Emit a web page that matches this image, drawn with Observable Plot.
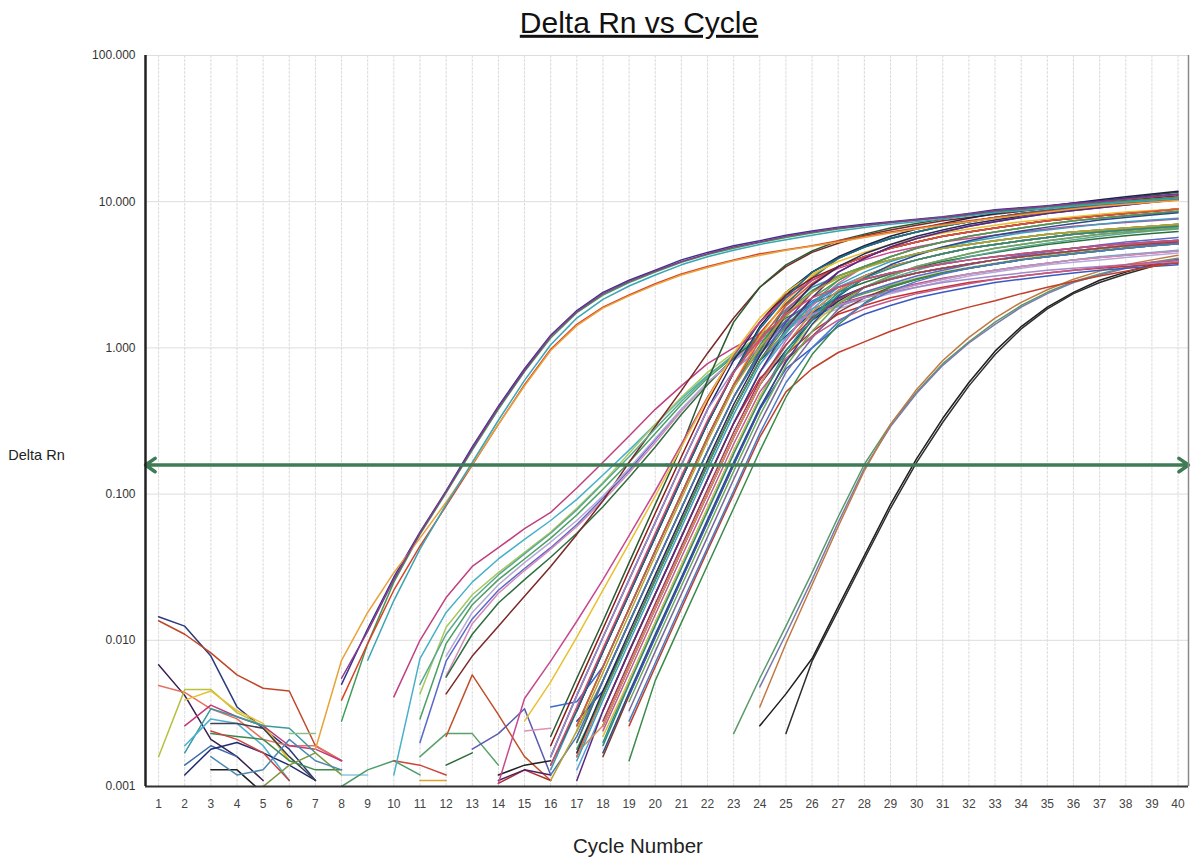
<!DOCTYPE html>
<html><head><meta charset="utf-8">
<script src="https://cdn.jsdelivr.net/npm/d3@7"></script>
<script src="https://cdn.jsdelivr.net/npm/@observablehq/plot@0.6"></script>
<style>
body{margin:0;background:#fff;}
#chart svg{display:block;}
</style></head><body><div id="chart"></div>
<script>
const title = "Delta Rn vs Cycle";
const xLabel = "Cycle Number";
const yLabel = "Delta Rn";
const cycleTicks = [1,2,3,4,5,6,7,8,9,10,11,12,13,14,15,16,17,18,19,20,21,22,23,24,25,26,27,28,29,30,31,32,33,34,35,36,37,38,39,40];
const yTicks = [0.001, 0.01, 0.1, 1, 10, 100];
const threshold = 0.158;

// Each curve: first number = cycle of first reading, then the Delta Rn readings per cycle.
const baselineCurves = [
  [1, 0.0145, 0.0125, 0.0078, 0.0035, 0.0025, 0.0018, 0.0011],
  [1, 0.0136, 0.011, 0.0082, 0.0058, 0.0047, 0.0045, 0.0019, 0.0015],
  [1, 0.0068, 0.0042, 0.0021, 0.0016, 0.0011],
  [1, 0.0049, 0.0044, 0.0034, 0.0029, 0.0021, 0.0019, 0.0019, 0.0015],
  [1, 0.0016, 0.0046, 0.0046, 0.0032, 0.0026, 0.0015],
  [2, 0.0039, 0.0045, 0.0033, 0.0027, 0.0015],
  [2, 0.0026, 0.0036, 0.0030, 0.0026, 0.0019, 0.0018, 0.0015],
  [2, 0.0017, 0.0034, 0.0030, 0.0026, 0.0025, 0.0017],
  [2, 0.0019, 0.0029, 0.0027, 0.0019, 0.0011],
  [2, 0.0014, 0.0019, 0.0016],
  [2, 0.0012, 0.0018, 0.002, 0.0017, 0.0014, 0.0011],
  [3, 0.0027, 0.0027, 0.0025, 0.0016, 0.0011],
  [3, 0.0013, 0.0013, 0.0009],
  [3, 0.0023, 0.0022, 0.0021, 0.0015, 0.0013, 0.0013],
  [3, 0.0024, 0.0021, 0.0017, 0.0011],
  [6, 0.0023, 0.0023],
  [5, 0.001, 0.0014, 0.0017, 0.0012],
  [3, 0.0016, 0.0012, 0.0013, 0.0021, 0.0015, 0.0013],
  [8, 0.0012, 0.0012],
  [8, 0.001, 0.0013, 0.0015, 0.0012],
  [10, 0.0015, 0.0014, 0.0012],
  [11, 0.0011, 0.0011],
  [11, 0.0016, 0.0023, 0.0023, 0.0014],
  [12, 0.0014, 0.0017],
  [12, 0.0022, 0.0058, 0.0031, 0.0016, 0.0011],
  [13, 0.0018, 0.0023, 0.0034, 0.0012],
  [14, 0.0012, 0.0014, 0.0015],
  [14, 0.00105, 0.0013, 0.0011],
  [15, 0.0024, 0.0025],
  [14, 0.0011, 0.0013, 0.0012]
];

const earlyCurves = [
  [8, 0.005, 0.012, 0.027, 0.055, 0.105, 0.21, 0.4, 0.72, 1.22, 1.8, 2.4, 2.9, 3.4, 4.0, 4.5, 5.0, 5.4, 5.9, 6.3, 6.7, 7.0, 7.3, 7.6, 7.9, 8.3, 8.8, 9.1, 9.4, 9.8, 10.1, 10.5, 10.9, 11.3],
  [8, 0.0028, 0.0095, 0.025, 0.053, 0.102, 0.2, 0.38, 0.69, 1.17, 1.74, 2.3, 2.8, 3.3, 3.85, 4.35, 4.8, 5.25, 5.7, 6.1, 6.5, 6.85, 7.2, 7.5, 7.8, 8.2, 8.6, 8.9, 9.2, 9.5, 9.8, 10.1, 10.4, 10.7],
  [8, 0.0039, 0.0095, 0.022, 0.044, 0.083, 0.158, 0.3, 0.56, 0.98, 1.45, 1.9, 2.3, 2.75, 3.2, 3.6, 4.0, 4.4, 4.7, 5.0, 5.4, 5.8, 6.2, 6.6, 7.0, 7.4, 7.8, 8.2, 8.6, 9.0, 9.4, 9.7, 10.0, 10.3],
  [7, 0.0018, 0.0073, 0.0155, 0.029, 0.05, 0.088, 0.16, 0.3, 0.55, 0.96, 1.42, 1.87, 2.27, 2.7, 3.15, 3.55, 3.95, 4.3, 4.65, 4.95, 5.3, 5.7, 6.1, 6.5, 6.9, 7.3, 7.7, 8.1, 8.5, 8.9, 9.3, 9.6, 9.9, 10.2],
  [9, 0.0073, 0.0187, 0.042, 0.085, 0.165, 0.32, 0.6, 1.05, 1.6, 2.15, 2.65, 3.15, 3.7, 4.2, 4.65, 5.1, 5.5, 5.9, 6.3, 6.65, 7.0, 7.3, 7.6, 8.0, 8.4, 8.7, 9.0, 9.3, 9.6, 9.9, 10.2, 10.5],
  [8, 0.0055, 0.0115, 0.026, 0.054, 0.104, 0.205, 0.39, 0.7, 1.2, 1.77, 2.35, 2.85, 3.35, 3.9, 4.4, 4.9, 5.3, 5.8, 6.2, 6.6, 6.9, 7.2, 7.5, 7.8, 8.2, 8.7, 9.0, 9.3, 9.7, 10.0, 10.4, 10.8, 11.2]
];

const midCurves = [
  [10, 0.0041, 0.010, 0.0196, 0.032, 0.043, 0.058, 0.075, 0.11, 0.165, 0.25, 0.38, 0.55, 0.78, 1.0, 1.25, 1.5, 1.75, 2.0, 2.25, 2.5, 2.75, 3.0, 3.2, 3.4, 3.6, 3.8, 4.0, 4.15, 4.3, 4.45, 4.6],
  [10, 0.0012, 0.0075, 0.0155, 0.025, 0.036, 0.049, 0.066, 0.092, 0.135, 0.2, 0.3, 0.45, 0.65, 0.88, 1.12, 1.38, 1.65, 1.92, 2.2, 2.45, 2.7, 2.95, 3.2, 3.4, 3.6, 3.8, 4.0, 4.2, 4.35, 4.5, 4.65],
  [11, 0.0043, 0.0123, 0.0205, 0.029, 0.04, 0.055, 0.08, 0.12, 0.19, 0.3, 0.46, 0.68, 0.93, 1.2, 1.48, 1.78, 2.1, 2.4, 2.7, 3.0, 3.3, 3.55, 3.8, 4.05, 4.3, 4.5, 4.7, 4.9, 5.1, 5.3],
  [11, 0.002, 0.0072, 0.014, 0.022, 0.031, 0.043, 0.062, 0.094, 0.145, 0.235, 0.38, 0.58, 0.82, 1.1, 1.4, 1.72, 2.05, 2.4, 2.75, 3.1, 3.4, 3.7, 4.0, 4.3, 4.55, 4.8, 5.05, 5.3, 5.5, 5.7],
  [11, 0.0029, 0.0095, 0.0175, 0.026, 0.036, 0.05, 0.072, 0.108, 0.165, 0.26, 0.41, 0.62, 0.87, 1.15, 1.45, 1.75, 2.05, 2.35, 2.65, 2.95, 3.25, 3.5, 3.75, 4.0, 4.2, 4.4, 4.6, 4.8, 5.0, 5.15],
  [12, 0.0057, 0.013, 0.021, 0.03, 0.042, 0.06, 0.09, 0.14, 0.225, 0.37, 0.58, 0.84, 1.12, 1.4, 1.68, 1.95, 2.2, 2.45, 2.7, 2.95, 3.2, 3.4, 3.6, 3.8, 4.0, 4.15, 4.3, 4.45, 4.6],
  [12, 0.0056, 0.011, 0.018, 0.026, 0.037, 0.054, 0.082, 0.13, 0.21, 0.35, 0.56, 0.85, 1.2, 1.6, 2.0, 2.4, 2.8, 3.2, 3.55, 3.9, 4.2, 4.5, 4.8, 5.1, 5.35, 5.6, 5.85, 6.05, 6.25],
  [12, 0.0043, 0.0078, 0.0125, 0.02, 0.032, 0.053, 0.09, 0.165, 0.29, 0.51, 0.92, 1.6, 2.6, 3.6, 4.5, 5.2, 5.9, 6.4, 6.9, 7.4, 7.8, 8.2, 8.6, 9.0, 9.4, 9.8, 10.2, 10.6, 11.0],
  [12, 0.0078, 0.0155, 0.024, 0.034, 0.047, 0.066, 0.097, 0.15, 0.24, 0.38, 0.58, 0.82, 1.08, 1.35, 1.6, 1.85, 2.1, 2.35, 2.6, 2.85, 3.1, 3.3, 3.5, 3.7, 3.85, 4.0, 4.15, 4.3, 4.45],
  [11, 0.005, 0.011, 0.019, 0.028, 0.039, 0.054, 0.078, 0.118, 0.18, 0.28, 0.43, 0.64, 0.9, 1.18, 1.5, 1.85, 2.2, 2.6, 3.0, 3.4, 3.8, 4.2, 4.55, 4.9, 5.2, 5.5, 5.8, 6.05, 6.3, 6.5]
];

const mainCurves = [
  [16, 0.0022, 0.0055, 0.0135, 0.034, 0.085, 0.21, 0.6, 1.5, 2.6, 3.7, 4.6, 5.4, 6.0, 6.6, 7.1, 7.6, 8.1, 8.5, 8.9, 9.3, 9.7, 10.1, 10.6, 11.1, 11.6],
  [16, 0.0016, 0.0042, 0.0105, 0.026, 0.064, 0.158, 0.38, 0.82, 1.5, 2.4, 3.3, 4.1, 4.9, 5.6, 6.2, 6.8, 7.3, 7.8, 8.3, 8.7, 9.1, 9.5, 9.9, 10.3, 10.7],
  [17, 0.0033, 0.0084, 0.0207, 0.051, 0.126, 0.305, 0.68, 1.26, 2.02, 2.9, 3.6, 4.2, 4.8, 5.3, 5.8, 6.2, 6.6, 7.0, 7.4, 7.7, 8.0, 8.3, 8.6, 8.9],
  [16, 0.0013, 0.0033, 0.0084, 0.0207, 0.051, 0.126, 0.305, 0.68, 1.17, 1.84, 2.6, 3.1, 3.6, 4.0, 4.4, 4.8, 5.1, 5.4, 5.7, 6.0, 6.2, 6.4, 6.6, 6.8, 7.0],
  [17, 0.0026, 0.0066, 0.0165, 0.041, 0.1, 0.245, 0.56, 1.2, 2.1, 3.1, 4.1, 4.9, 5.6, 6.2, 6.8, 7.3, 7.8, 8.3, 8.7, 9.1, 9.5, 9.9, 10.3, 10.7],
  [17, 0.0026, 0.0066, 0.0165, 0.041, 0.1, 0.245, 0.56, 1.04, 1.76, 2.47, 3.1, 3.6, 4.0, 4.4, 4.8, 5.1, 5.4, 5.7, 6.0, 6.2, 6.4, 6.6, 6.8, 7.0],
  [16, 0.0035, 0.0038, 0.0066, 0.0165, 0.041, 0.1, 0.245, 0.56, 0.96, 1.54, 2.09, 2.6, 2.95, 3.25, 3.5, 3.75, 4.0, 4.2, 4.4, 4.6, 4.8, 5.0, 5.15, 5.3, 5.45],
  [17, 0.002, 0.0053, 0.0132, 0.0326, 0.08, 0.197, 0.46, 0.95, 1.8, 2.67, 3.6, 4.2, 4.8, 5.3, 5.8, 6.2, 6.6, 7.0, 7.4, 7.7, 8.0, 8.3, 8.6, 8.9],
  [17, 0.0024, 0.0053, 0.0132, 0.0326, 0.08, 0.197, 0.46, 0.92, 1.64, 2.39, 3.1, 3.6, 4.0, 4.4, 4.8, 5.1, 5.4, 5.7, 6.0, 6.2, 6.4, 6.6, 6.8, 7.0],
  [17, 0.0016, 0.0042, 0.0105, 0.026, 0.064, 0.158, 0.38, 0.82, 1.5, 2.4, 3.3, 4.1, 4.9, 5.6, 6.2, 6.8, 7.3, 7.8, 8.3, 8.7, 9.1, 9.5, 9.9, 10.3],
  [17, 0.0016, 0.0042, 0.0105, 0.026, 0.064, 0.158, 0.38, 0.82, 1.3, 2.0, 2.6, 3.1, 3.6, 4.0, 4.4, 4.8, 5.1, 5.4, 5.7, 6.0, 6.2, 6.4, 6.6, 6.8],
  [17, 0.0028, 0.0045, 0.0105, 0.026, 0.064, 0.158, 0.38, 0.82, 1.2, 1.75, 2.2, 2.6, 2.95, 3.25, 3.5, 3.75, 4.0, 4.2, 4.4, 4.6, 4.8, 5.0, 5.15, 5.3],
  [18, 0.0033, 0.0084, 0.0207, 0.051, 0.126, 0.305, 0.68, 1.26, 2.02, 2.9, 3.6, 4.2, 4.8, 5.3, 5.8, 6.2, 6.6, 7.0, 7.4, 7.7, 8.0, 8.3, 8.6],
  [17, 0.0013, 0.0033, 0.0084, 0.0207, 0.051, 0.126, 0.305, 0.68, 1.17, 1.84, 2.6, 3.1, 3.6, 4.0, 4.4, 4.8, 5.1, 5.4, 5.7, 6.0, 6.2, 6.4, 6.6, 6.8],
  [18, 0.0033, 0.0084, 0.0207, 0.051, 0.126, 0.305, 0.62, 0.9, 1.29, 1.7, 1.95, 2.2, 2.4, 2.6, 2.8, 2.95, 3.1, 3.25, 3.4, 3.5, 3.6, 3.7, 3.8],
  [18, 0.0026, 0.0066, 0.0165, 0.041, 0.1, 0.245, 0.56, 1.04, 1.76, 2.47, 3.1, 3.6, 4.0, 4.4, 4.8, 5.1, 5.4, 5.7, 6.0, 6.2, 6.4, 6.6, 6.8],
  [18, 0.0026, 0.0066, 0.0165, 0.041, 0.1, 0.245, 0.56, 0.96, 1.54, 2.09, 2.6, 2.95, 3.25, 3.5, 3.75, 4.0, 4.2, 4.4, 4.6, 4.8, 5.0, 5.15, 5.3],
  [18, 0.0026, 0.0066, 0.0165, 0.041, 0.1, 0.245, 0.56, 1.12, 1.94, 2.76, 3.6, 4.2, 4.8, 5.3, 5.8, 6.2, 6.6, 7.0, 7.4, 7.7, 8.0, 8.3, 8.6],
  [18, 0.002, 0.0053, 0.0132, 0.0326, 0.08, 0.197, 0.46, 0.95, 1.64, 2.39, 3.1, 3.6, 4.0, 4.4, 4.8, 5.1, 5.4, 5.7, 6.0, 6.2, 6.4, 6.6, 6.8],
  [18, 0.0022, 0.0053, 0.0132, 0.0326, 0.08, 0.197, 0.46, 0.9, 1.44, 2.02, 2.6, 2.95, 3.25, 3.5, 3.75, 4.0, 4.2, 4.4, 4.6, 4.8, 5.0, 5.15, 5.3],
  [18, 0.0016, 0.0042, 0.0105, 0.026, 0.064, 0.158, 0.38, 0.82, 1.2, 1.75, 2.2, 2.6, 2.95, 3.25, 3.5, 3.75, 4.0, 4.2, 4.4, 4.6, 4.8, 5.0, 5.15],
  [19, 0.0042, 0.0105, 0.026, 0.064, 0.158, 0.38, 0.72, 1.0, 1.4, 1.7, 1.95, 2.2, 2.4, 2.6, 2.8, 2.95, 3.1, 3.25, 3.4, 3.5, 3.6, 3.7],
  [19, 0.0033, 0.0084, 0.0207, 0.051, 0.126, 0.305, 0.68, 1.17, 1.84, 2.6, 3.1, 3.6, 4.0, 4.4, 4.8, 5.1, 5.4, 5.7, 6.0, 6.2, 6.4, 6.6],
  [19, 0.0026, 0.0066, 0.0165, 0.041, 0.1, 0.245, 0.5, 0.72, 0.93, 1.1, 1.3, 1.5, 1.7, 1.9, 2.1, 2.35, 2.6, 2.85, 3.1, 3.35, 3.6, 3.85],
  [19, 0.0015, 0.0053, 0.0132, 0.0326, 0.08, 0.197, 0.46, 0.9, 1.44, 2.02, 2.6, 2.95, 3.25, 3.5, 3.75, 4.0, 4.2, 4.4, 4.6, 4.8, 5.0, 5.15],
  [16, 0.0016, 0.0042, 0.0105, 0.026, 0.064, 0.158, 0.38, 0.7, 1.0, 1.4, 1.7, 1.95, 2.2, 2.4, 2.6, 2.8, 2.95, 3.1, 3.25, 3.4, 3.5, 3.6, 3.7, 3.8, 3.9],
  [17, 0.002, 0.0053, 0.0132, 0.0326, 0.08, 0.197, 0.46, 0.95, 1.97, 3.0, 4.1, 4.9, 5.6, 6.2, 6.8, 7.3, 7.8, 8.3, 8.7, 9.1, 9.5, 9.9, 10.3, 10.7],
  [17, 0.0033, 0.0084, 0.0207, 0.051, 0.126, 0.305, 0.68, 1.4, 2.3, 3.3, 4.2, 5.0, 5.8, 6.5, 7.1, 7.7, 8.3, 8.8, 9.3, 9.8, 10.3, 10.8, 11.3, 11.8],
  [16, 0.0019, 0.0048, 0.012, 0.03, 0.074, 0.18, 0.43, 0.9, 1.5, 2.3, 3.0, 3.6, 4.2, 4.8, 5.3, 5.8, 6.2, 6.6, 7.0, 7.4, 7.7, 8.0, 8.3, 8.6, 8.9],
  [14, 0.00105, 0.004, 0.0072, 0.0135, 0.026, 0.052, 0.105, 0.22, 0.46, 0.9, 1.5, 2.2, 2.9, 3.5, 4.0, 4.5, 4.9, 5.3, 5.6, 5.9, 6.2, 6.5, 6.8, 7.0, 7.2, 7.4, 7.6],
  [15, 0.0028, 0.0052, 0.0105, 0.022, 0.046, 0.097, 0.21, 0.45, 0.92, 1.6, 2.4, 3.2, 3.9, 4.5, 5.1, 5.6, 6.1, 6.5, 6.9, 7.3, 7.6, 7.9, 8.2, 8.5, 8.7, 8.9],
  [16, 0.0014, 0.0033, 0.0084, 0.0207, 0.051, 0.126, 0.305, 0.68, 1.35, 2.2, 3.3, 4.1, 4.9, 5.6, 6.2, 6.8, 7.3, 7.8, 8.3, 8.7, 9.1, 9.5, 9.9, 10.3, 10.7],
  [17, 0.0026, 0.0066, 0.0165, 0.041, 0.1, 0.245, 0.56, 1.12, 1.94, 2.76, 3.6, 4.2, 4.8, 5.3, 5.8, 6.2, 6.6, 7.0, 7.4, 7.7, 8.0, 8.3, 8.6, 8.9],
  [16, 0.0012, 0.0022, 0.0053, 0.0132, 0.0326, 0.08, 0.197, 0.46, 0.9, 1.44, 2.02, 2.6, 2.95, 3.25, 3.5, 3.75, 4.0, 4.2, 4.4, 4.6, 4.8, 5.0, 5.15, 5.3, 5.45],
  [17, 0.0018, 0.0042, 0.0105, 0.026, 0.064, 0.158, 0.38, 0.82, 1.4, 2.2, 2.9, 3.6, 4.2, 4.8, 5.3, 5.8, 6.2, 6.6, 7.0, 7.4, 7.7, 8.0, 8.3, 8.6],
  [17, 0.0011, 0.0033, 0.0084, 0.0207, 0.051, 0.126, 0.305, 0.68, 1.35, 2.2, 3.3, 4.1, 4.9, 5.6, 6.2, 6.8, 7.3, 7.8, 8.3, 8.7, 9.1, 9.5, 9.9, 10.3],
  [17, 0.0017, 0.0026, 0.0066, 0.0165, 0.041, 0.1, 0.245, 0.56, 1.04, 1.76, 2.47, 3.1, 3.6, 4.0, 4.4, 4.8, 5.1, 5.4, 5.7, 6.0, 6.2, 6.4, 6.6, 6.8],
  [17, 0.0015, 0.0039, 0.0097, 0.024, 0.059, 0.146, 0.35, 0.77, 1.3, 2.0, 2.7, 3.3, 3.9, 4.4, 4.9, 5.3, 5.7, 6.1, 6.4, 6.7, 7.0, 7.3, 7.5, 7.7],
  [18, 0.0024, 0.006, 0.015, 0.037, 0.09, 0.22, 0.5, 0.85, 1.2, 1.55, 1.85, 2.1, 2.35, 2.55, 2.75, 2.95, 3.1, 3.25, 3.4, 3.55, 3.7, 3.85, 4.0],
  [18, 0.0017, 0.0044, 0.011, 0.027, 0.067, 0.165, 0.39, 0.8, 1.45, 2.25, 3.0, 3.7, 4.3, 4.9, 5.4, 5.9, 6.3, 6.7, 7.1, 7.5, 7.8, 8.1, 8.4],
  [19, 0.0038, 0.0095, 0.0235, 0.058, 0.143, 0.345, 0.75, 1.3, 2.0, 2.6, 3.1, 3.6, 4.0, 4.4, 4.8, 5.1, 5.4, 5.7, 6.0, 6.2, 6.4, 6.6],
  [18, 0.0028, 0.0071, 0.0178, 0.044, 0.108, 0.265, 0.6, 1.05, 1.6, 2.15, 2.6, 2.95, 3.25, 3.5, 3.75, 4.0, 4.2, 4.4, 4.6, 4.8, 5.0, 5.15, 5.3],
  [17, 0.0017, 0.0045, 0.0113, 0.028, 0.069, 0.17, 0.41, 0.88, 1.7, 2.7, 3.6, 4.4, 5.1, 5.8, 6.4, 7.0, 7.5, 8.0, 8.5, 8.9, 9.3, 9.7, 10.1, 10.5],
  [19, 0.0028, 0.007, 0.0175, 0.043, 0.105, 0.26, 0.58, 1.0, 1.5, 2.0, 2.45, 2.85, 3.2, 3.5, 3.75, 4.0, 4.2, 4.4, 4.6, 4.8, 5.0, 5.15],
  [16, 0.0011, 0.0024, 0.006, 0.015, 0.038, 0.093, 0.23, 0.53, 1.0, 1.7, 2.4, 3.0, 3.5, 4.0, 4.4, 4.8, 5.1, 5.4, 5.7, 6.0, 6.2, 6.4, 6.6, 6.8, 7.0],
  [18, 0.0019, 0.005, 0.0126, 0.031, 0.076, 0.188, 0.44, 0.9, 1.55, 2.3, 3.0, 3.5, 4.0, 4.4, 4.8, 5.1, 5.4, 5.7, 6.0, 6.2, 6.4, 6.6, 6.8],
  [16, 0.0014, 0.0035, 0.0088, 0.0217, 0.054, 0.133, 0.32, 0.68, 1.15, 1.7, 2.2, 2.6, 2.95, 3.25, 3.5, 3.75, 4.0, 4.2, 4.4, 4.6, 4.8, 5.0, 5.15, 5.3, 5.45]
];

const lateCurves = [
  [23, 0.0023, 0.0055, 0.0125, 0.029, 0.07, 0.16, 0.3, 0.5, 0.78, 1.1, 1.5, 1.95, 2.4, 2.85, 3.2, 3.55, 3.85, 4.1],
  [24, 0.0048, 0.011, 0.026, 0.064, 0.15, 0.29, 0.49, 0.76, 1.08, 1.45, 1.9, 2.35, 2.8, 3.15, 3.5, 3.8, 4.05],
  [24, 0.0035, 0.0095, 0.024, 0.06, 0.145, 0.3, 0.52, 0.82, 1.18, 1.6, 2.05, 2.5, 2.95, 3.35, 3.7, 4.0, 4.3]
];

const lastCurves = [
  [24, 0.0026, 0.0043, 0.0075, 0.017, 0.038, 0.085, 0.175, 0.33, 0.58, 0.95, 1.4, 1.9, 2.4, 2.9, 3.3, 3.7, 4.0],
  [25, 0.0023, 0.0072, 0.016, 0.036, 0.08, 0.165, 0.31, 0.55, 0.9, 1.35, 1.85, 2.35, 2.8, 3.2, 3.6, 3.9]
];

// styling
const baselineColors = ["#2a3a7a","#c0462a","#3a2050","#e87060","#b8c040","#e8c030","#c03a7a","#3a9aa0","#4ab0d0","#3a6ab0","#202a70","#404050","#202020","#3a8a4a","#d04040","#8ac08a","#7a9a3a","#4a8ab0","#8ac8e0","#4a9a6a","#c84a3a","#e0a030","#5aa06a","#2a6a3a","#c0502a","#5a5ab0","#222222","#b03030","#e090b0","#502060"];
const earlyColors = ["#35358f","#3f9a55","#d8442a","#e8a23a","#3aa5b5","#8a3a8a"];
const midColors = ["#c0407f","#48b0c8","#a8c860","#5a68c8","#4aa060","#d48ab8","#2f6e3e","#7a2828","#b8a8d8","#5aa890"];
const mainColors = ["#2a5a32","#1e2a66","#d23a2c","#3a9aaa","#e6a624","#3a9a5a","#3a6ad0","#c04a8a","#8aa040","#6a3a9a","#e07a3a","#2a3a9a","#4aa08a","#5aa0d8","#c83030","#2a8a3a","#203070","#d070a0","#309090","#d8c040","#8a3a2a","#3a5ac0","#7a6a9a","#c0402a","#3a8a4a","#a08ac8","#2a7a6a","#222244","#8b1a1a","#c84890","#e8c030","#1a6a8a","#d85a3a","#4a70b8","#4a9a4a","#5a2a7a","#e08a50","#3aa0c0","#c05a8a","#2a4a8a","#6aaa5a","#a03a5a","#2a2a5a","#4a7ac8","#b8a030","#2a8a7a","#d84a6a"];
const lateColors = ["#5a9a6a","#7a7ab0","#c07840"];
const lastColors = ["#1e1e1e","#2e2e2e"];

function toRows(curves, colors, group) {
  const rows = [];
  curves.forEach((c, i) => {
    const start = c[0];
    c.slice(1).forEach((v, j) => rows.push({id: group + i, cycle: start + j, value: v, color: colors[i % colors.length]}));
  });
  return rows;
}
const rows = [
  ...toRows(baselineCurves, baselineColors, "n"),
  ...toRows(lateCurves, lateColors, "d"),
  ...toRows(lastCurves, lastColors, "e"),
  ...toRows(midCurves, midColors, "b"),
  ...toRows(mainCurves, mainColors, "c"),
  ...toRows(earlyCurves, earlyColors, "a")
];

const xDomain = [0.5, 40.4];
const mid = (xDomain[0] + xDomain[1]) / 2;
const font = "'Liberation Sans', Arial, sans-serif";

const chart = Plot.plot({
  width: 1192, height: 861,
  marginLeft: 145, marginRight: 4, marginTop: 55, marginBottom: 75,
  style: {fontFamily: font, fontSize: "12px", background: "#fff", color: "#222"},
  x: {domain: xDomain, axis: null},
  y: {type: "log", domain: [0.001, 100], axis: null},
  color: {type: "identity"},
  marks: [
    Plot.gridX({ticks: cycleTicks, stroke: "#dcdcdc", strokeOpacity: 1, strokeDasharray: "3,1"}),
    Plot.gridY({ticks: yTicks, stroke: "#dddddd", strokeOpacity: 1}),
    Plot.line(rows, {x: "cycle", y: "value", z: "id", stroke: "color", strokeWidth: 1.5, clip: true}),
    Plot.arrow(xDomain, {x1: () => mid, x2: d => d, y1: () => threshold, y2: () => threshold,
      stroke: "#3f7b55", strokeWidth: 3.5, headLength: 5, headAngle: 70}),
    Plot.ruleX([xDomain[1]], {stroke: "#8a8a8a", strokeWidth: 1.5}),
    Plot.ruleY([0.001], {stroke: "#333", strokeWidth: 2}),
    Plot.ruleX([xDomain[0]], {stroke: "#222", strokeWidth: 2.5}),
    Plot.axisY({ticks: yTicks, tickSize: 0, tickPadding: 10, tickFormat: d3.format(".3f"), label: null, fontSize: 12, color: "#333"}),
    Plot.axisX({ticks: cycleTicks, tickSize: 0, tickPadding: 13, label: null, fontSize: 12, color: "#444"}),
    Plot.text([title], {text: d => d, frameAnchor: "top", dx: -28, dy: -44, fontSize: 30, fill: "#111"}),
    Plot.text([yLabel], {text: d => d, frameAnchor: "left", dx: -109, dy: 34, textAnchor: "middle", fontSize: 14.5, fill: "#222"}),
    Plot.text([xLabel], {text: d => d, frameAnchor: "bottom", dx: -29, dy: 66, fontSize: 20.5, fill: "#222"})
  ]
});
d3.select(chart).selectAll("text").filter(function(){ return this.textContent === title; })
  .style("text-decoration", "underline");
document.getElementById("chart").appendChild(chart);
</script>
</body></html>
